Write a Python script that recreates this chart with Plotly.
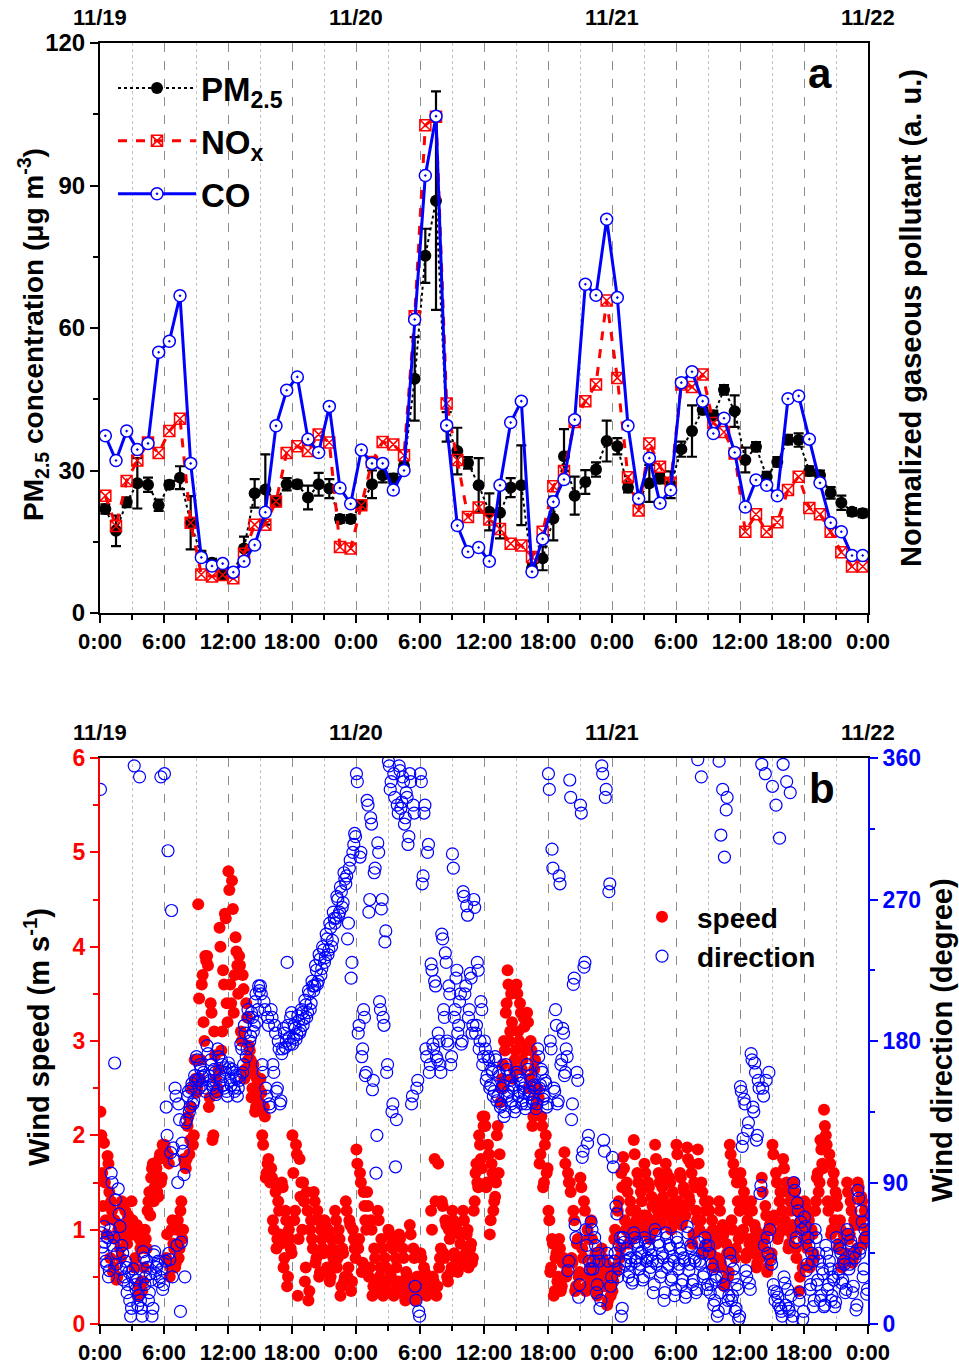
import plotly.graph_objects as go

# ---------------- Panel a data (hourly, 11/19 0:00 - 11/22 0:00) ----------------
hour_labels = ["0:00", "6:00", "12:00", "18:00", "0:00", "6:00", "12:00", "18:00",
               "0:00", "6:00", "12:00", "18:00", "0:00"]
date_labels = ["11/19", "11/20", "11/21", "11/22"]

pm25 = [21.9, 17.3, 23.3, 27.3, 27.0, 22.7, 27.0, 28.5, 19.0, 12.1, 10.6, 8.0,
        8.5, 13.6, 25.2, 26.0, 23.5, 27.1, 27.1, 24.3, 27.1, 26.2, 19.8, 19.8,
        22.7, 27.1, 29.0, 28.3, 31.0, 49.3, 75.2, 86.8, 39.2, 34.1, 31.6, 26.9,
        21.3, 21.1, 26.4, 26.9, 9.4, 11.5, 19.9, 33.0, 24.7, 27.6, 30.2, 36.2,
        35.1, 26.4, 24.0, 27.3, 28.3, 27.0, 34.5, 38.3, 42.8, 41.6, 47.0, 42.5,
        32.2, 35.0, 28.7, 31.8, 36.5, 36.4, 29.9, 29.0, 25.3, 23.2, 21.3, 21.0]
pm25_err = [1.0, 3.2, 1.0, 5.3, 1.5, 1.2, 0.8, 2.4, 5.6, 1.0, 0.8, 0.8,
            0.8, 2.5, 3.0, 7.4, 1.0, 1.3, 0.8, 2.5, 2.4, 2.0, 0.8, 0.8,
            1.0, 2.9, 1.5, 1.0, 1.0, 8.8, 5.7, 23.0, 3.1, 4.9, 1.2, 5.7,
            3.9, 5.4, 2.0, 8.4, 1.0, 2.5, 4.6, 5.7, 4.0, 2.5, 1.5, 4.3,
            1.7, 1.0, 1.0, 3.9, 1.0, 2.8, 1.6, 5.4, 1.0, 1.0, 1.0, 3.3,
            2.6, 1.0, 1.0, 1.0, 1.0, 1.4, 1.0, 1.0, 1.2, 1.5, 0.8, 0.8]
nox = [24.7, 18.3, 27.8, 32.1, 35.9, 33.7, 38.3, 40.9, 19.0, 8.1, 7.7, 8.0,
       7.3, 12.5, 18.6, 18.6, 23.5, 33.7, 35.1, 34.1, 37.6, 35.9, 13.9, 13.6,
       22.7, 31.8, 36.0, 35.5, 33.2, 62.5, 102.7, 104.5, 44.1, 32.2, 20.2, 22.2,
       19.7, 17.7, 14.6, 14.2, 11.8, 17.1, 26.7, 29.9, 40.2, 44.6, 48.1, 65.8,
       49.5, 28.6, 21.6, 35.7, 30.8, 27.4, 48.1, 47.6, 50.2, 40.0, 38.1, 33.6,
       17.1, 20.8, 17.1, 19.1, 25.9, 28.7, 22.1, 20.8, 17.1, 12.8, 9.8, 9.8]
co = [37.3, 32.1, 38.3, 34.4, 35.7, 54.9, 57.2, 66.8, 31.5, 11.7, 9.9, 10.4,
      8.6, 10.9, 14.3, 21.2, 39.4, 46.9, 49.7, 36.6, 33.8, 43.5, 26.3, 23.0,
      34.3, 31.5, 31.5, 25.9, 30.0, 61.8, 92.1, 104.6, 39.5, 18.4, 12.9, 13.8,
      10.9, 26.9, 40.1, 44.6, 8.7, 15.6, 23.4, 28.1, 40.7, 69.2, 66.9, 82.9,
      66.4, 39.4, 24.1, 32.6, 23.1, 25.9, 48.5, 50.8, 44.6, 37.8, 41.0, 33.8,
      22.3, 28.0, 26.9, 24.7, 45.1, 45.7, 36.6, 27.4, 19.0, 17.1, 12.1, 12.1]
hours = [h + 0.5 for h in range(len(pm25))]

# ---------------- Panel b data: wind, 10-min samples (6 per hour) ----------------
# first sample set (on the 10-min marks)
wind_speed = [
    2.25, 1.6, 1.92, 1.1, 1.78, 1.4,   1.3, 0.55, 1.1, 0.47, 1.0, 0.8,
    1.3, 0.95, 1.2, 0.85, 1.1, 1.0,    1.1, 0.6, 1.0, 0.3, 0.9, 0.45,
    0.45, 1.0, 0.8, 1.3, 1.15, 1.65,   1.3, 1.6, 1.4, 1.75, 1.5, 1.9,
    1.9, 0.7, 1.8, 0.5, 1.0, 0.85,     0.6, 1.0, 0.7, 1.2, 0.9, 1.75,
    1.65, 2.1, 1.8, 2.3, 1.9, 2.8,     2.45, 4.45, 2.6, 3.6, 3.2, 3.9,
    3.9, 2.3, 3.4, 1.95, 3.1, 2.6,     2.5, 4.2, 2.9, 3.75, 4.35, 3.4,
    4.8, 3.6, 4.7, 3.3, 4.1, 3.8,      3.9, 3.1, 3.7, 2.6, 3.4, 2.8,
    2.9, 2.4, 2.75, 2.25, 2.6, 2.5,    2.6, 2.0, 2.3, 1.55, 1.7, 1.6,
    1.65, 1.1, 1.5, 0.8, 1.3, 0.95,    1.5, 0.6, 1.2, 0.4, 1.0, 0.8,
    2.0, 1.1, 1.9, 0.3, 1.75, 1.5,     1.5, 0.45, 1.4, 0.25, 1.0, 0.9,
    1.4, 0.65, 1.2, 0.5, 1.0, 0.8,     1.1, 0.55, 1.0, 0.45, 0.9, 0.7,
    1.2, 0.6, 1.0, 0.3, 0.8, 0.45,     1.3, 0.5, 1.1, 0.35, 1.0, 0.8,
    1.85, 0.8, 1.6, 0.55, 1.4, 1.1,    1.4, 0.5, 1.1, 0.3, 0.8, 0.35,
    1.2, 0.5, 0.9, 0.3, 0.7, 0.35,     1.0, 0.55, 0.85, 0.3, 0.7, 0.4,
    0.95, 0.4, 0.8, 0.3, 0.55, 0.35,   1.05, 0.35, 0.8, 0.25, 0.5, 0.3,
    0.75, 0.45, 0.6, 0.35, 0.5, 0.4,   1.2, 0.5, 1.75, 0.3, 1.7, 0.7,
    1.3, 0.75, 1.1, 0.5, 1.0, 0.55,    1.2, 0.75, 1.05, 0.55, 0.95, 0.65,
    1.2, 0.7, 0.95, 0.6, 0.8, 0.65,    1.2, 1.6, 1.5, 2.0, 1.75, 2.2,
    2.2, 1.45, 1.9, 0.95, 1.7, 1.2,    1.35, 2.0, 1.6, 2.35, 2.6, 3.0,
    3.3, 3.75, 3.0, 3.5, 2.6, 2.8,     3.6, 3.1, 3.4, 2.7, 3.25, 2.9,
    3.3, 2.5, 3.0, 2.1, 2.7, 2.3,      2.5, 1.7, 2.2, 1.45, 1.9, 1.6,
    1.2, 0.55, 0.9, 0.3, 0.7, 0.45,    0.9, 0.35, 0.65, 1.82, 0.5, 1.6,
    1.5, 0.7, 1.2, 0.35, 0.85, 0.5,    1.55, 0.8, 1.3, 0.35, 1.0, 0.5,
    1.1, 0.45, 0.7, 0.35, 0.55, 0.4,   0.8, 0.4, 0.65, 0.2, 0.5, 0.3,
    0.35, 0.9, 0.55, 1.2, 0.7, 1.6,    1.77, 1.1, 1.5, 0.85, 1.3, 0.9,
    1.95, 1.2, 1.6, 0.95, 1.4, 1.0,    1.7, 1.15, 1.5, 0.9, 1.35, 1.0,
    1.9, 1.3, 1.6, 1.05, 1.45, 1.15,   1.7, 1.25, 1.55, 1.0, 1.4, 1.1,
    1.9, 1.3, 1.6, 1.05, 1.45, 1.15,   1.87, 1.35, 1.7, 0.85, 1.5, 1.2,
    1.85, 1.0, 1.5, 0.75, 1.3, 0.85,   1.3, 0.8, 1.1, 0.6, 0.9, 0.7,
    1.3, 0.65, 1.05, 0.4, 0.85, 0.5,   1.9, 1.1, 1.7, 0.7, 1.5, 0.9,
    1.6, 0.95, 1.4, 0.7, 1.1, 0.85,    1.3, 0.8, 1.05, 0.6, 0.9, 0.7,
    1.55, 0.8, 1.25, 0.55, 1.0, 0.7,   1.9, 1.15, 1.6, 0.9, 1.3, 1.0,
    1.75, 1.1, 1.5, 0.8, 1.3, 0.95,    1.5, 0.8, 1.3, 0.35, 1.1, 0.6,
    1.3, 0.85, 1.15, 0.6, 1.0, 0.75,   1.2, 1.55, 1.4, 1.95, 1.7, 2.27,
    2.0, 1.3, 1.8, 0.95, 1.5, 1.1,     1.35, 0.8, 1.1, 0.6, 0.95, 0.7,
    1.5, 0.9, 1.3, 0.65, 1.1, 0.75,    1.5, 1.05, 1.35, 0.85, 1.2, 0.95,
]
# second sample set (5 min after each mark)
wind_speed_b = [
    2.0, 1.25, 1.5, 0.95, 1.7, 0.7,    1.2, 0.6, 0.9, 0.5, 1.05, 0.7,
    1.25, 1.05, 0.9, 1.15, 1.0, 1.3,   0.95, 0.7, 1.05, 0.4, 0.8, 0.35,
    0.6, 0.9, 1.2, 1.4, 1.55, 1.7,     1.45, 1.65, 1.35, 1.8, 1.55, 1.85,
    1.85, 0.95, 1.7, 0.6, 1.1, 0.8,    0.65, 1.1, 0.8, 1.3, 1.0, 1.7,
    1.75, 2.2, 1.95, 2.5, 2.0, 2.6,    2.5, 3.45, 2.8, 3.7, 3.0, 3.85,
    3.8, 2.4, 3.3, 2.0, 2.85, 2.45,    2.7, 4.0, 3.1, 3.6, 4.3, 3.2,
    4.6, 3.4, 4.4, 3.7, 3.95, 3.5,     3.8, 3.0, 3.55, 2.7, 3.25, 2.95,
    2.8, 2.5, 2.65, 2.3, 2.45, 2.35,   2.45, 1.9, 2.2, 1.6, 1.75, 1.5,
    1.55, 1.0, 1.4, 0.9, 1.2, 0.85,    1.45, 0.7, 1.1, 0.5, 0.9, 0.75,
    1.6, 1.2, 1.8, 0.9, 1.35, 1.0,     1.3, 0.6, 1.2, 0.35, 1.1, 0.8,
    1.3, 0.7, 1.1, 0.55, 0.9, 0.75,    1.05, 0.6, 0.95, 0.5, 0.8, 0.65,
    1.1, 0.7, 0.9, 0.4, 0.75, 0.5,     1.2, 0.6, 1.05, 0.45, 0.9, 0.7,
    1.7, 0.9, 1.5, 0.65, 1.25, 1.0,    1.25, 0.6, 1.0, 0.4, 0.7, 0.45,
    1.1, 0.6, 0.8, 0.4, 0.6, 0.45,     0.95, 0.5, 0.8, 0.35, 0.6, 0.45,
    0.9, 0.45, 0.7, 0.25, 0.5, 0.4,    0.95, 0.4, 0.7, 0.3, 0.45, 0.35,
    0.7, 0.4, 0.55, 0.3, 0.45, 0.35,   1.0, 0.45, 1.3, 0.4, 0.6, 0.8,
    1.25, 0.7, 1.05, 0.45, 0.9, 0.6,   1.1, 0.7, 1.0, 0.6, 0.85, 0.7,
    1.1, 0.75, 1.0, 0.65, 0.85, 0.7,   1.3, 1.7, 1.45, 1.9, 1.65, 2.1,
    2.1, 1.5, 1.8, 1.1, 1.6, 1.3,      1.5, 2.1, 1.8, 2.5, 2.75, 2.9,
    3.4, 3.6, 3.1, 3.2, 2.7, 2.9,      3.5, 3.0, 3.3, 2.8, 3.15, 2.95,
    3.2, 2.6, 2.9, 2.2, 2.8, 2.4,      2.4, 1.8, 2.1, 1.5, 2.0, 1.65,
    1.1, 0.6, 0.85, 0.35, 0.75, 0.5,   0.8, 0.4, 0.7, 1.7, 0.55, 1.5,
    1.4, 0.65, 1.1, 0.4, 0.9, 0.55,    1.45, 0.7, 1.2, 0.4, 0.9, 0.6,
    0.9, 0.5, 0.75, 0.3, 0.6, 0.45,    0.7, 0.45, 0.55, 0.25, 0.6, 0.35,
    0.45, 1.0, 0.6, 1.3, 0.8, 1.45,    1.65, 1.0, 1.4, 0.95, 1.2, 1.05,
    1.8, 1.1, 1.5, 1.05, 1.3, 1.15,    1.6, 1.05, 1.45, 0.95, 1.25, 1.1,
    1.75, 1.2, 1.5, 1.1, 1.35, 1.25,   1.6, 1.15, 1.5, 1.05, 1.3, 1.2,
    1.8, 1.2, 1.55, 1.1, 1.4, 1.25,    1.75, 1.3, 1.6, 0.95, 1.45, 1.1,
    1.7, 1.1, 1.4, 0.8, 1.2, 0.95,     1.2, 0.75, 1.0, 0.65, 0.85, 0.95,
    1.2, 0.6, 0.95, 0.45, 0.75, 0.55,  1.8, 1.0, 1.6, 0.8, 1.3, 1.2,
    1.5, 1.0, 1.3, 0.75, 1.2, 0.9,     1.2, 0.75, 1.0, 0.65, 0.85, 0.95,
    1.4, 0.9, 1.15, 0.6, 1.05, 0.75,   1.8, 1.1, 1.5, 0.95, 1.4, 1.2,
    1.65, 1.0, 1.4, 0.85, 1.2, 1.05,   1.4, 0.7, 1.2, 0.5, 1.0, 0.9,
    1.25, 0.8, 1.1, 0.65, 0.95, 0.7,   1.3, 1.6, 1.5, 1.85, 1.65, 2.1,
    1.9, 1.2, 1.7, 1.0, 1.6, 1.4,      1.25, 0.85, 1.0, 0.65, 0.9, 0.75,
    1.4, 0.95, 1.2, 0.7, 1.05, 0.8,    1.45, 1.1, 1.3, 0.9, 1.15, 1.0,
]
wind_dir = [
    340, 49, 62, 40, 55, 34,     96, 50, 166, 38, 86, 62,
    50, 28, 40, 20, 33, 5,       30, 355, 22, 12, 348, 10,
    46, 25, 40, 15, 32, 5,       44, 32, 38, 27, 348, 22,
    350, 138, 301, 41, 263, 112, 150, 50, 140, 8, 115, 95,
    128, 145, 135, 150, 140, 158, 170, 155, 165, 152, 160, 148,
    177, 158, 168, 152, 162, 146, 175, 158, 168, 152, 163, 148,
    166, 155, 162, 150, 158, 145, 155, 178, 160, 190, 170, 200,
    180, 198, 186, 205, 192, 215, 215, 165, 205, 150, 195, 140,
    200, 165, 190, 148, 180, 140, 172, 188, 176, 230, 182, 195,
    178, 190, 181, 196, 185, 200, 190, 206, 195, 212, 200, 218,
    212, 228, 216, 235, 222, 240, 230, 248, 235, 255, 240, 262,
    255, 272, 260, 278, 265, 287, 280, 245, 290, 220, 300, 312,
    350, 185, 297, 170, 200, 158, 333, 262, 322, 149, 287, 96,
    306, 205, 264, 195, 243, 160, 358, 340, 135, 350, 100, 330,
    355, 328, 348, 318, 338, 305, 350, 140, 330, 24, 150, 8,
    350, 280, 325, 175, 300, 160, 229, 178, 218, 170, 185, 165,
    248, 200, 236, 180, 215, 165, 299, 195, 220, 185, 205, 178,
    275, 210, 266, 195, 223, 185, 270, 185, 230, 175, 205, 165,
    180, 155, 170, 150, 162, 145, 170, 142, 160, 138, 150, 132,
    165, 145, 158, 140, 150, 135, 160, 145, 155, 140, 150, 137,
    165, 146, 158, 141, 152, 137, 175, 150, 162, 143, 155, 138,
    350, 180, 302, 150, 200, 140, 285, 165, 188, 158, 175, 34,
    346, 130, 216, 63, 160, 17,  330, 106, 227, 60, 115, 40,
    65, 35, 55, 20, 45, 10,      355, 117, 335, 45, 275, 24,
    106, 40, 75, 30, 50, 5,      55, 38, 48, 30, 42, 26,
    58, 40, 52, 35, 45, 28,      55, 40, 50, 33, 44, 20,
    60, 38, 52, 30, 45, 15,      58, 36, 50, 28, 43, 18,
    55, 35, 48, 25, 42, 17,      62, 34, 50, 25, 42, 20,
    359, 40, 348, 30, 55, 22,    50, 20, 38, 12, 28, 5,
    358, 311, 340, 297, 327, 15, 45, 15, 35, 8, 25, 3,
    151, 113, 143, 34, 123, 26,  172, 138, 166, 117, 155, 83,
    356, 145, 350, 55, 160, 41,  342, 21, 330, 17, 309, 8,
    356, 26, 345, 10, 338, 2,    90, 52, 77, 15, 65, 3,
    68, 34, 55, 22, 45, 11,      60, 25, 45, 15, 35, 11,
    50, 22, 40, 15, 30, 11,      55, 32, 48, 26, 40, 20,
    60, 35, 53, 20, 45, 9,       85, 45, 72, 30, 60, 19,
]
wind_dir_b = [
    58, 45, 52, 38, 30, 60,      90, 55, 79, 45, 70, 35,
    45, 30, 36, 25, 15, 10,      35, 25, 28, 18, 15, 5,
    42, 30, 36, 20, 28, 10,      46, 36, 40, 30, 35, 25,
    40, 120, 45, 109, 30, 104,   145, 90, 130, 52, 110, 30,
    130, 148, 138, 153, 142, 155, 168, 150, 162, 157, 158, 150,
    172, 155, 165, 150, 160, 148, 170, 155, 165, 150, 160, 145,
    163, 152, 160, 148, 156, 150, 158, 175, 165, 185, 175, 195,
    183, 195, 190, 210, 200, 212, 210, 160, 200, 145, 190, 138,
    195, 160, 185, 150, 175, 142, 175, 185, 180, 190, 178, 198,
    182, 188, 184, 193, 187, 198, 194, 203, 198, 210, 204, 215,
    215, 225, 218, 232, 226, 238, 233, 245, 238, 252, 244, 258,
    258, 270, 262, 275, 268, 283, 285, 255, 295, 230, 305, 310,
    345, 190, 300, 175, 195, 160, 330, 270, 318, 155, 290, 120,
    300, 200, 270, 190, 250, 165, 355, 345, 140, 335, 130, 325,
    352, 332, 345, 322, 335, 310, 345, 145, 325, 15, 155, 5,
    345, 285, 330, 170, 305, 165, 225, 175, 215, 168, 180, 160,
    245, 195, 230, 178, 210, 170, 290, 200, 225, 190, 210, 180,
    272, 215, 260, 200, 220, 190, 265, 190, 225, 180, 200, 170,
    175, 158, 168, 152, 160, 148, 168, 145, 158, 140, 152, 135,
    162, 148, 155, 142, 152, 138, 158, 148, 153, 142, 147, 140,
    162, 148, 155, 143, 150, 140, 170, 152, 160, 145, 153, 140,
    340, 175, 290, 148, 190, 142, 280, 168, 185, 160, 170, 40,
    335, 140, 220, 55, 155, 25,  325, 110, 230, 50, 120, 35,
    60, 40, 50, 25, 40, 15,      350, 110, 340, 40, 280, 30,
    100, 45, 70, 35, 55, 10,     52, 40, 45, 33, 38, 28,
    55, 42, 50, 38, 46, 30,      52, 42, 48, 36, 40, 25,
    57, 40, 50, 33, 42, 20,      55, 38, 48, 30, 40, 22,
    52, 38, 45, 28, 40, 20,      58, 38, 48, 28, 40, 22,
    52, 38, 45, 32, 50, 25,      45, 25, 35, 15, 30, 8,
    20, 30, 25, 10, 335, 18,     40, 18, 30, 10, 22, 5,
    148, 118, 140, 30, 128, 22,  168, 135, 160, 120, 150, 88,
    150, 50, 155, 45, 60, 38,    25, 15, 20, 12, 10, 5,
    30, 12, 22, 8, 18, 5,        85, 55, 72, 20, 60, 8,
    62, 38, 50, 25, 40, 15,      55, 28, 40, 18, 32, 12,
    45, 25, 35, 18, 28, 14,      50, 35, 45, 28, 38, 22,
    57, 38, 50, 24, 42, 12,      80, 48, 65, 35, 55, 22,
]
wind_time = [i / 6 + 1 / 24 for i in range(len(wind_speed))]
wind_time_b = [i / 6 + 1 / 8 for i in range(len(wind_speed_b))]

# ---------------- styling ----------------
FONT = "Liberation Sans"
W, H = 959, 1364
L, R, T, B = 100, 91, 43, 40
plot_h = H - T - B
def py(pix):  # pixel row -> paper y
    return (H - B - pix) / plot_h
def px(pix):  # pixel column -> paper x
    return (pix - L) / (W - L - R)

fig = go.Figure()

fig.add_trace(go.Scatter(
    x=hours, y=pm25, name="PM<sub>2.5</sub>", mode="lines+markers",
    line=dict(color="black", dash="dot", width=2),
    marker=dict(symbol="circle", size=12, color="black"),
    error_y=dict(type="data", array=pm25_err, color="black", thickness=2.2, width=5),
    xaxis="x", yaxis="y", legend="legend", legendgroup="a1"))
fig.add_trace(go.Scatter(
    x=hours, y=nox, name="NO<sub>x</sub>", mode="lines+markers",
    line=dict(color="red", dash="dash", width=3),
    marker=dict(symbol="square-x-open", size=11, color="red", line=dict(width=1.5)),
    xaxis="x", yaxis="y", legend="legend", legendgroup="a2"))
fig.add_trace(go.Scatter(
    x=hours, y=co, name="CO", mode="lines+markers",
    line=dict(color="blue", width=3),
    marker=dict(symbol="circle-dot", size=12, color="white",
                line=dict(color="blue", width=1.5)),
    xaxis="x", yaxis="y", legend="legend", legendgroup="a3"))

fig.add_trace(go.Scatter(
    x=wind_time + wind_time_b, y=wind_speed + wind_speed_b, name="speed",
    mode="markers", marker=dict(symbol="circle", size=12, color="red"),
    xaxis="x2", yaxis="y3", legend="legend2"))
fig.add_trace(go.Scatter(
    x=wind_time + wind_time_b, y=wind_dir + wind_dir_b, name="direction",
    mode="markers",
    marker=dict(symbol="circle-open", size=12, color="blue", line=dict(width=1.2)),
    xaxis="x2", yaxis="y4", legend="legend2"))

xtick_font = dict(family=FONT, size=22, color="black", weight="bold")
ytick_font = dict(family=FONT, size=24, color="black", weight="bold")
major_x = list(range(0, 73, 6))
minor_x = list(range(3, 72, 6))

def xaxis_style(anchor):
    return dict(
        domain=[0, 1], anchor=anchor, range=[0, 72], automargin=False,
        tickmode="array", tickvals=major_x, ticktext=hour_labels,
        ticks="outside", ticklen=8, tickwidth=2, tickcolor="black",
        tickfont=xtick_font,
        showline=True, linewidth=2, linecolor="black", mirror=True,
        showgrid=True, gridcolor="#8c8c8c", griddash="dash", gridwidth=1,
        zeroline=False,
        minor=dict(tickmode="array", tickvals=minor_x, ticks="outside",
                   ticklen=5, tickwidth=2, tickcolor="black",
                   showgrid=True, gridcolor="#c0c0c0", griddash="dot", gridwidth=1),
    )

dom_b = [0, py(758)]
dom_a = [py(613), 1]

fig.update_layout(
    width=W, height=H,
    margin=dict(l=L, r=R, t=T, b=B, autoexpand=False),
    paper_bgcolor="white", plot_bgcolor="white",
    font=dict(family=FONT, color="black"),
    xaxis=xaxis_style("y"),
    xaxis2=xaxis_style("y3"),
    yaxis=dict(domain=dom_a, anchor="x", range=[0, 120], automargin=False,
               tickmode="array", tickvals=[0, 30, 60, 90, 120],
               ticks="outside", ticklen=8, tickwidth=2, tickcolor="black",
               tickfont=ytick_font, showline=True, linewidth=2, linecolor="black",
               mirror=True, showgrid=False, zeroline=False,
               minor=dict(tickmode="array", tickvals=[15, 45, 75, 105],
                          ticks="outside", ticklen=5, tickwidth=2, tickcolor="black")),
    yaxis3=dict(domain=dom_b, anchor="x2", range=[0, 6], automargin=False,
                tickmode="array", tickvals=[0, 1, 2, 3, 4, 5, 6],
                ticks="outside", ticklen=8, tickwidth=2, tickcolor="red",
                tickfont=dict(family=FONT, size=23, color="red", weight="bold"),
                showline=True, linewidth=2, linecolor="red",
                showgrid=False, zeroline=False,
                minor=dict(tickmode="array", tickvals=[0.5, 1.5, 2.5, 3.5, 4.5, 5.5],
                           ticks="outside", ticklen=5, tickwidth=2, tickcolor="red")),
    yaxis4=dict(overlaying="y3", side="right", anchor="x2", range=[0, 360],
                automargin=False,
                tickmode="array", tickvals=[0, 90, 180, 270, 360],
                ticks="outside", ticklen=8, tickwidth=2, tickcolor="blue",
                tickfont=dict(family=FONT, size=23, color="blue", weight="bold"),
                showline=True, linewidth=2, linecolor="blue",
                showgrid=False, zeroline=False,
                minor=dict(tickmode="array", tickvals=[45, 135, 225, 315],
                           ticks="outside", ticklen=5, tickwidth=2, tickcolor="blue")),
    legend=dict(x=px(113), y=py(60), xanchor="left", yanchor="top",
                font=dict(family=FONT, size=33, color="black", weight="bold"),
                bgcolor="rgba(0,0,0,0)", itemwidth=78, traceorder="grouped",
                tracegroupgap=7),
    legend2=dict(x=px(627), y=py(892), xanchor="left", yanchor="top",
                 font=dict(family=FONT, size=28, color="black", weight="bold"),
                 bgcolor="rgba(0,0,0,0)", itemwidth=60),
    showlegend=True,
)

annotations = []
# date labels on top of each panel
for i, d in enumerate(date_labels):
    for yy in (py(18), py(733)):
        annotations.append(dict(x=24 * i, xref="x", y=yy, yref="paper", text=d,
                                showarrow=False, xanchor="center", yanchor="middle",
                                font=dict(family=FONT, size=22, color="black", weight="bold")))
# panel letters
annotations.append(dict(x=px(820), y=py(73), xref="paper", yref="paper", text="a",
                        showarrow=False, xanchor="center", yanchor="middle",
                        font=dict(family=FONT, size=42, color="black", weight="bold")))
annotations.append(dict(x=px(822), y=py(788), xref="paper", yref="paper", text="b",
                        showarrow=False, xanchor="center", yanchor="middle",
                        font=dict(family=FONT, size=42, color="black", weight="bold")))
# axis titles
for (xp, yp, size, txt) in [
    (33, 335, 28, "PM<sub>2.5</sub> concentration (μg m<sup>-3</sup>)"),
    (911, 318, 29, "Normalized gaseous pollutant (a. u.)"),
    (37, 1037, 29, "Wind speed (m s<sup>-1</sup>)"),
    (942, 1040, 29, "Wind direction (degree)"),
]:
    annotations.append(dict(x=px(xp), y=py(yp), xref="paper", yref="paper", text=txt,
                            showarrow=False, textangle=-90, xanchor="center",
                            yanchor="middle",
                            font=dict(family=FONT, size=size, color="black", weight="bold")))
fig.update_layout(annotations=annotations)

fig.write_html("out.html")
